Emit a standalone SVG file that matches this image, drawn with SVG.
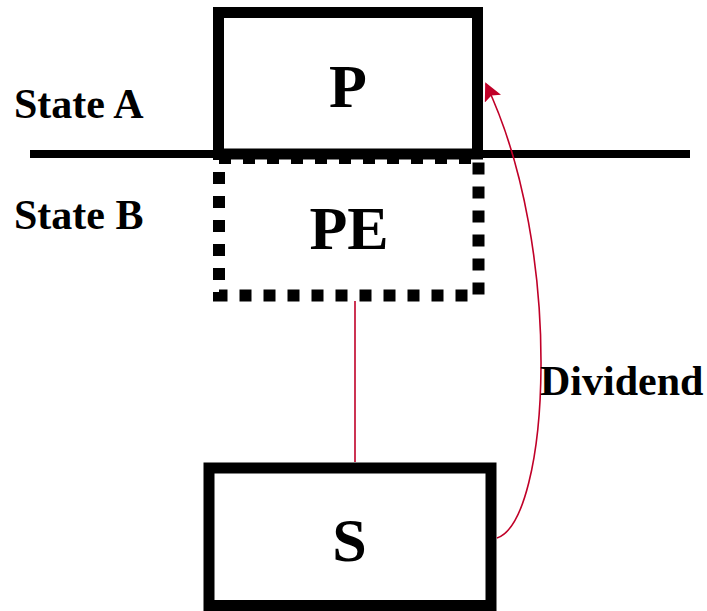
<svg xmlns="http://www.w3.org/2000/svg" width="707" height="611" viewBox="0 0 707 611">
<style>
.lbl{font-family:"Liberation Serif","Times New Roman",serif;font-weight:bold;fill:#000}
.big{font-size:62px;text-anchor:middle}
.small{font-size:42px}
.box{fill:none;stroke:#000;stroke-width:11}
.edge{fill:none;stroke:#c00028;stroke-width:1.6}
</style>
<defs>
<marker id="ah" viewBox="0 0 10 10" refX="9" refY="5" markerWidth="18" markerHeight="18" markerUnits="userSpaceOnUse" orient="auto">
<path d="M0,0 L10,5 L0,10 L2,5 z" fill="#c00028"/>
</marker>
</defs>
<g id="divider"><line x1="30" y1="154" x2="690" y2="154" stroke="#000" stroke-width="8"/></g>
<g id="stateA"><text class="lbl small" x="14" y="118">State A</text></g>
<g id="stateB"><text class="lbl small" x="14" y="229">State B</text></g>
<g id="P"><rect class="box" x="218.5" y="12.5" width="259" height="141.5"/><text class="lbl big" x="348" y="107">P</text></g>
<g id="PE"><rect x="219" y="158" width="259.5" height="137.5" fill="none" stroke="#000" stroke-width="12" stroke-dasharray="12 12"/><text class="lbl big" x="349" y="249">PE</text></g>
<g id="S"><rect class="box" x="209" y="468" width="282" height="137.5" stroke-width="12"/><text class="lbl big" x="349.5" y="561">S</text></g>
<g id="connectors">
<line class="edge" x1="355" y1="301" x2="355" y2="462"/>
<path class="edge" d="M497,538 C550,520 565,250 486,84" marker-end="url(#ah)"/>
<text class="lbl small" x="540" y="395">Dividend</text>
</g>
</svg>
